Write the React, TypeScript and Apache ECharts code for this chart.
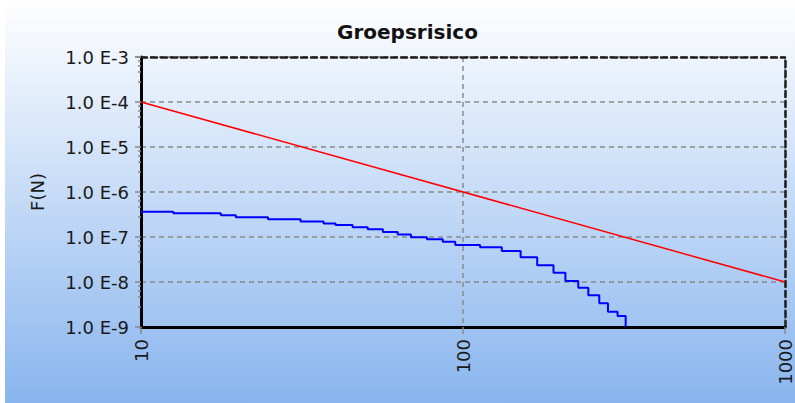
import React, { useEffect, useRef } from "react";
import * as echarts from "echarts";

const titleText = "Groepsrisico";
const yAxisName = "F(N)";

// Norm line (red)
const normN = [10, 1000];
const normF = [1e-4, 1e-8];

// Computed group risk (blue step line): N where each step starts, F value held
const riskN = [10, 12.6, 17.7, 19.7, 24.8, 31.3, 36.9, 40.2, 45.4, 50.6, 56.4, 62.7, 68.9, 77.3, 86.5, 94.6, 113, 132, 151, 170, 191, 208, 228, 245, 265, 282, 302, 320];
const riskF = [3.65e-7, 3.36e-7, 3.04e-7, 2.74e-7, 2.49e-7, 2.21e-7, 2.0e-7, 1.85e-7, 1.64e-7, 1.48e-7, 1.29e-7, 1.14e-7, 9.85e-8, 8.89e-8, 7.87e-8, 6.64e-8, 5.9e-8, 4.89e-8, 3.54e-8, 2.35e-8, 1.61e-8, 1.05e-8, 7.47e-9, 5.06e-9, 3.36e-9, 2.19e-9, 1.75e-9, 1.0e-9];

const xMin = 10;
const xMax = 1000;
const yMin = 1e-9;
const yMax = 1e-3;

const FONT = "DejaVu Sans";

export default function App() {
  const ref = useRef<HTMLDivElement>(null);

  useEffect(() => {
    document.body.style.margin = "0";
    if (!ref.current) return;
    const chart = echarts.init(ref.current, undefined, { renderer: "svg" });

    const fmtY = (v: number) => {
      const e = Math.round(Math.log10(v));
      return "1.0 E" + e;
    };
    const fmtX = (v: number) => String(Math.round(v));

    const gridLine = { color: "#8a8a8a", width: 1.5, type: [5, 4] as number[] };
    const borderLine = { color: "#1e1e1e", width: 2.5, type: [6, 4] as number[] };

    chart.setOption({
      animation: false,
      backgroundColor: new echarts.graphic.LinearGradient(0, 0, 0, 1, [
        { offset: 0, color: "#ffffff" },
        { offset: 1, color: "#89b5ee" },
      ]),
      graphic: [
        {
          type: "rect",
          left: 0,
          top: 0,
          shape: { width: 5, height: 403 },
          style: { fill: "#ffffff" },
          silent: true,
        },
      ],
      title: {
        text: titleText,
        left: 337,
        top: 22,
        padding: 0,
        textStyle: { fontFamily: FONT, fontSize: 20, fontWeight: "bold", color: "#111" },
      },
      grid: { left: 141, right: 10, top: 57, bottom: 76, containLabel: false },
      xAxis: [
        {
          type: "log",
          logBase: 10,
          min: xMin,
          max: xMax,
          axisLine: { show: true, onZero: false, lineStyle: { color: "#000", width: 3 } },
          axisTick: { show: true, length: 7, lineStyle: { color: "#888", width: 1.5 } },
          axisLabel: {
            rotate: 90,
            margin: 12,
            formatter: fmtX,
            fontFamily: FONT,
            fontSize: 18,
            color: "#1a1a1a",
          },
          splitLine: { show: true, lineStyle: gridLine },
        },
        {
          type: "log",
          logBase: 10,
          min: xMin,
          max: xMax,
          position: "top",
          axisLine: { show: true, onZero: false, lineStyle: borderLine },
          axisTick: { show: false },
          axisLabel: { show: false },
          splitLine: { show: false },
        },
      ],
      yAxis: [
        {
          type: "log",
          logBase: 10,
          min: yMin,
          max: yMax,
          name: yAxisName,
          nameLocation: "middle",
          nameRotate: 90,
          nameGap: 95,
          nameTextStyle: { fontFamily: FONT, fontSize: 18, color: "#1a1a1a" },
          axisLine: { show: true, onZero: false, lineStyle: { color: "#000", width: 3 } },
          axisTick: { show: true, length: 6, lineStyle: { color: "#888", width: 1.5 } },
          minorTick: { show: true, splitNumber: 5, length: 3, lineStyle: { color: "#888", width: 1.5 } },
          axisLabel: {
            formatter: fmtY,
            margin: 12,
            fontFamily: FONT,
            fontSize: 18,
            color: "#1a1a1a",
          },
          splitLine: { show: true, lineStyle: gridLine },
        },
        {
          type: "log",
          logBase: 10,
          min: yMin,
          max: yMax,
          position: "right",
          axisLine: { show: true, onZero: false, lineStyle: borderLine },
          axisTick: { show: false },
          axisLabel: { show: false },
          splitLine: { show: false },
        },
      ],
      series: [
        {
          type: "line",
          name: "Norm",
          data: normN.map((n, i) => [n, normF[i]]),
          showSymbol: false,
          symbol: "none",
          lineStyle: { color: "#ff0000", width: 1.5 },
          z: 5,
        },
        {
          type: "line",
          name: "Groepsrisico",
          step: "end",
          data: riskN.map((n, i) => [n, riskF[i]]),
          showSymbol: false,
          symbol: "none",
          lineStyle: { color: "#0000ff", width: 2 },
          z: 6,
        },
      ],
    });

    return () => chart.dispose();
  }, []);

  return <div ref={ref} style={{ width: 795, height: 403 }} />;
}
